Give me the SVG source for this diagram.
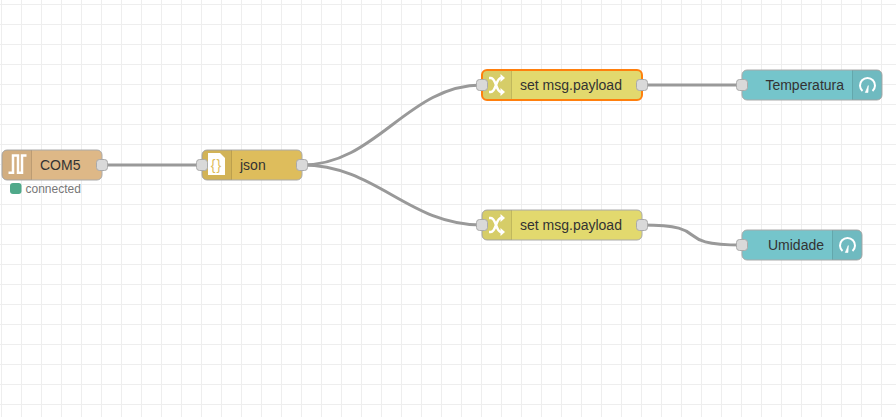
<svg xmlns="http://www.w3.org/2000/svg" width="896" height="417" viewBox="0 0 896 417">
<style>
.node{stroke:#aaa;stroke-width:1}
.sel{stroke:#ff7f0e;stroke-width:2}
.div{stroke:#000;stroke-opacity:.1;stroke-width:1}
.shade{fill:#000;fill-opacity:.05;stroke:none}
.port{fill:#d9d9d9;stroke:#aaa;stroke-width:1}
.wire{fill:none;stroke:#999;stroke-width:3}
.label{font-family:"Liberation Sans",Arial,sans-serif;font-size:14px;fill:#333}
.status{font-family:"Liberation Sans",Arial,sans-serif;font-size:12px;fill:#777}
.ico{fill:none;stroke:#fff}
</style>
<defs>
<pattern id="grid" width="20" height="20" patternUnits="userSpaceOnUse" x="1" y="4">
<path d="M0 .5H20M.5 0V20" fill="none" stroke="#eee" stroke-width="1"/>
</pattern>
<g id="shuffle">
<path class="ico" stroke-width="2.500" d="M-8 -7H-6C-1 -7 -1 7 4 7H5M-8 7H-6C-1 7 -1 -7 4 -7H5"/>
<path d="M3.500 -11L8 -7L3.500 -3ZM3.500 3L8 7L3.500 11Z" fill="#fff"/>
</g>
<g id="gauge">
<path class="ico" stroke-width="2" d="M-5 6A7.500 7.500 0 1 1 5 6"/>
<path d="M-2.200 7.500L0.800 0.500L0.500 7.500Z" fill="#fff" stroke="#fff" stroke-width=".6"/>
</g>
</defs>
<rect width="896" height="417" fill="#fff"/>
<rect width="896" height="417" fill="url(#grid)"/>
<g id="connectors">
<path class="wire" d="M102 165H202"/>
<path class="wire" d="M302 165C377 165 407 85 482 85"/>
<path class="wire" d="M302 165C377 165 407 225 482 225"/>
<path class="wire" d="M642 85H742"/>
<path class="wire" d="M642 225C717 225 667 245 742 245"/>
</g>
<g id="node-com5">
<rect class="node" x="2" y="150" width="100" height="30" rx="5" fill="#deb887"/>
<path class="shade" d="M7 150H32V180H7A5 5 0 0 1 2 175V155A5 5 0 0 1 7 150Z"/>
<path class="div" d="M31.500 150.500V179.500"/>
<path class="ico" stroke-width="2.500" d="M8.500 172.700H13V155.500H18V172.700H22V155.500H26.500"/>
<rect class="port" x="96.500" y="159.500" width="11" height="11" rx="3"/>
<text class="label" x="40" y="170">COM5</text>
<rect x="10" y="183" width="11.500" height="11" rx="3" fill="#4fa98a"/>
<text class="status" x="25.500" y="193">connected</text>
</g>
<g id="node-json">
<rect class="node" x="202" y="150" width="100" height="30" rx="5" fill="#debd5c"/>
<path class="shade" d="M207 150H232V180H207A5 5 0 0 1 202 175V155A5 5 0 0 1 207 150Z"/>
<path class="div" d="M231.500 150.500V179.500"/>
<path d="M208 153H220L225 158V175H208Z" fill="#fff"/>
<text x="216.500" y="169.500" text-anchor="middle" letter-spacing="1" style="font-family:'Liberation Sans',Arial,sans-serif;font-size:14px;fill:#debd5c">{}</text>
<rect class="port" x="196.500" y="159.500" width="11" height="11" rx="3"/>
<rect class="port" x="296.500" y="159.500" width="11" height="11" rx="3"/>
<text class="label" x="240" y="170">json</text>
</g>
<g id="node-set1">
<rect class="node sel" x="482" y="70" width="160" height="30" rx="5" fill="#e2d96e"/>
<path class="shade" d="M487 71H512V99H487A4 4 0 0 1 483 95V75A4 4 0 0 1 487 71Z"/>
<path class="div" d="M511.500 71V99"/>
<use href="#shuffle" x="497" y="85"/>
<rect class="port" x="476.500" y="79.500" width="11" height="11" rx="3"/>
<rect class="port" x="636.500" y="79.500" width="11" height="11" rx="3"/>
<text class="label" x="520" y="90">set msg.payload</text>
</g>
<g id="node-set2">
<rect class="node" x="482" y="210" width="160" height="30" rx="5" fill="#e2d96e"/>
<path class="shade" d="M487 210H512V240H487A5 5 0 0 1 482 235V215A5 5 0 0 1 487 210Z"/>
<path class="div" d="M511.500 210.500V239.500"/>
<use href="#shuffle" x="497" y="225"/>
<rect class="port" x="476.500" y="219.500" width="11" height="11" rx="3"/>
<rect class="port" x="636.500" y="219.500" width="11" height="11" rx="3"/>
<text class="label" x="520" y="230">set msg.payload</text>
</g>
<g id="node-temperatura">
<rect class="node" x="742" y="70" width="140" height="30" rx="5" fill="#75c5cb"/>
<path class="shade" d="M852 70H877A5 5 0 0 1 882 75V95A5 5 0 0 1 877 100H852Z"/>
<path class="div" d="M852.500 70.500V99.500"/>
<use href="#gauge" x="867.500" y="85"/>
<rect class="port" x="736.500" y="79.500" width="11" height="11" rx="3"/>
<text class="label" x="844" y="90" text-anchor="end">Temperatura</text>
</g>
<g id="node-umidade">
<rect class="node" x="742" y="230" width="120" height="30" rx="5" fill="#75c5cb"/>
<path class="shade" d="M832 230H857A5 5 0 0 1 862 235V255A5 5 0 0 1 857 260H832Z"/>
<path class="div" d="M832.500 230.500V259.500"/>
<use href="#gauge" x="847.500" y="245"/>
<rect class="port" x="736.500" y="239.500" width="11" height="11" rx="3"/>
<text class="label" x="824" y="250" text-anchor="end">Umidade</text>
</g>
</svg>
